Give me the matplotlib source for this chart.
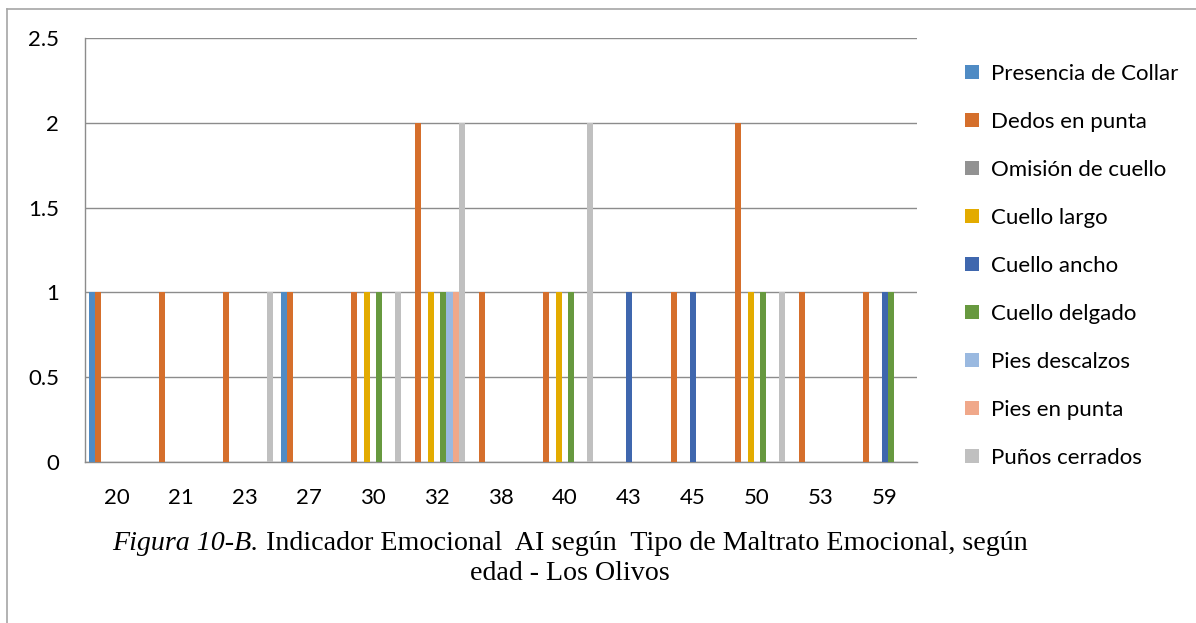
"""Indicador Emocional AI segun tipo de maltrato emocional, por edad - Los Olivos."""
import numpy as np
import matplotlib
matplotlib.use("Agg")
import matplotlib.pyplot as plt
from matplotlib.lines import Line2D

edades = ["20", "21", "23", "27", "30", "32", "38", "40", "43", "45", "50", "53", "59"]

series = [
    "Presencia de Collar",
    "Dedos en punta",
    "Omisión de cuello",
    "Cuello largo",
    "Cuello ancho",
    "Cuello delgado",
    "Pies descalzos",
    "Pies en punta",
    "Puños cerrados",
]

#                    20 21 23 27 30 32 38 40 43 45 50 53 59
presencia_collar  = [1, 0, 0, 1, 0, 0, 0, 0, 0, 0, 0, 0, 0]
dedos_en_punta    = [1, 1, 1, 1, 1, 2, 1, 1, 0, 1, 2, 1, 1]
omision_cuello    = [0, 0, 0, 0, 0, 0, 0, 0, 0, 0, 0, 0, 0]
cuello_largo      = [0, 0, 0, 0, 1, 1, 0, 1, 0, 0, 1, 0, 0]
cuello_ancho      = [0, 0, 0, 0, 0, 0, 0, 0, 1, 1, 0, 0, 1]
cuello_delgado    = [0, 0, 0, 0, 1, 1, 0, 1, 0, 0, 1, 0, 1]
pies_descalzos    = [0, 0, 0, 0, 0, 1, 0, 0, 0, 0, 0, 0, 0]
pies_en_punta     = [0, 0, 0, 0, 0, 1, 0, 0, 0, 0, 0, 0, 0]
punos_cerrados    = [0, 0, 1, 0, 1, 2, 0, 2, 0, 0, 1, 0, 0]

valores = [presencia_collar, dedos_en_punta, omision_cuello, cuello_largo,
           cuello_ancho, cuello_delgado, pies_descalzos, pies_en_punta,
           punos_cerrados]

colores = ["#4f8bc4", "#d56f2c", "#929292", "#e3ab00", "#3f67ae",
           "#67993f", "#9ab9e0", "#f0a88a", "#c0c0c0"]

y_ticks = [0, 0.5, 1, 1.5, 2, 2.5]
y_labels = ["0", "0.5", "1", "1.5", "2", "2.5"]

W, H = 1196, 623
GRID = "#8c8c8c"
SANS = ["Lato", "DejaVu Sans"]
SERIF = ["Liberation Serif", "DejaVu Serif"]


def main():
    fig = plt.figure(figsize=(W / 100, H / 100), dpi=100)
    ax = fig.add_axes([85 / W, 1 - 462 / H, (917 - 85) / W, (462 - 38) / H])

    x = np.arange(len(edades))
    n = len(series)
    w = 0.0985  # ancho de cada barra dentro del grupo
    for k, (nombre, vals, c) in enumerate(zip(series, valores, colores)):
        ax.bar(x + (k - (n - 1) / 2) * w, vals, width=w, color=c,
               label=nombre, linewidth=0, zorder=3)

    ax.set_xlim(-0.5, len(edades) - 0.5)
    ax.set_ylim(0, 2.5)
    ax.set_yticks(y_ticks)
    ax.set_yticklabels(y_labels)
    ax.set_xticks(x)
    ax.set_xticklabels(edades)
    ax.tick_params(axis="both", length=0, labelsize=16, colors="#000000")
    ax.tick_params(axis="y", pad=18.5)
    ax.tick_params(axis="x", pad=19)
    for lab in ax.get_xticklabels() + ax.get_yticklabels():
        lab.set_family(SANS)

    ax.yaxis.grid(True, color=GRID, linewidth=1.0, zorder=0)
    for s in ("top", "right"):
        ax.spines[s].set_visible(False)
    for s in ("left", "bottom"):
        ax.spines[s].set_color(GRID)
        ax.spines[s].set_linewidth(1.0)

    fig.legend(loc="center left", bbox_to_anchor=(965 / W, 1 - 266 / H),
               frameon=False, prop={"family": SANS, "size": 16},
               handlelength=0.63, handleheight=0.63, handletextpad=0.54,
               labelspacing=1.26, borderpad=0, borderaxespad=0)

    # marco exterior (solo se ven el borde superior e izquierdo)
    fig.add_artist(Line2D([7 / W, 1], [1 - 9 / H, 1 - 9 / H], color="#a6a6a6",
                          linewidth=1.2, transform=fig.transFigure))
    fig.add_artist(Line2D([7 / W, 7 / W], [0, 1 - 9 / H], color="#a6a6a6",
                          linewidth=1.2, transform=fig.transFigure))

    # pie de figura: "Figura 10-B." en cursiva + resto normal
    cap_size = 20.2
    y1 = 1 - 543 / H
    y2 = 1 - 574 / H
    cx = 570 / W
    t_it = fig.text(0, y1, "Figura 10-B.", family=SERIF, style="italic",
                    size=cap_size, va="center", ha="left")
    t_rest = fig.text(0, y1, " Indicador Emocional  AI según  Tipo de Maltrato Emocional, según",
                      family=SERIF, size=cap_size, va="center", ha="left")
    fig.text(cx, y2, "edad - Los Olivos", family=SERIF, size=cap_size,
             va="center", ha="center")

    fig.canvas.draw()
    r = fig.canvas.get_renderer()
    w1 = t_it.get_window_extent(r).width
    w2 = t_rest.get_window_extent(r).width
    x0 = cx * W - (w1 + w2) / 2
    t_it.set_x(x0 / W)
    t_rest.set_x((x0 + w1) / W)

    fig.savefig("out.png", dpi=100)
    plt.close(fig)


if __name__ == "__main__":
    main()
